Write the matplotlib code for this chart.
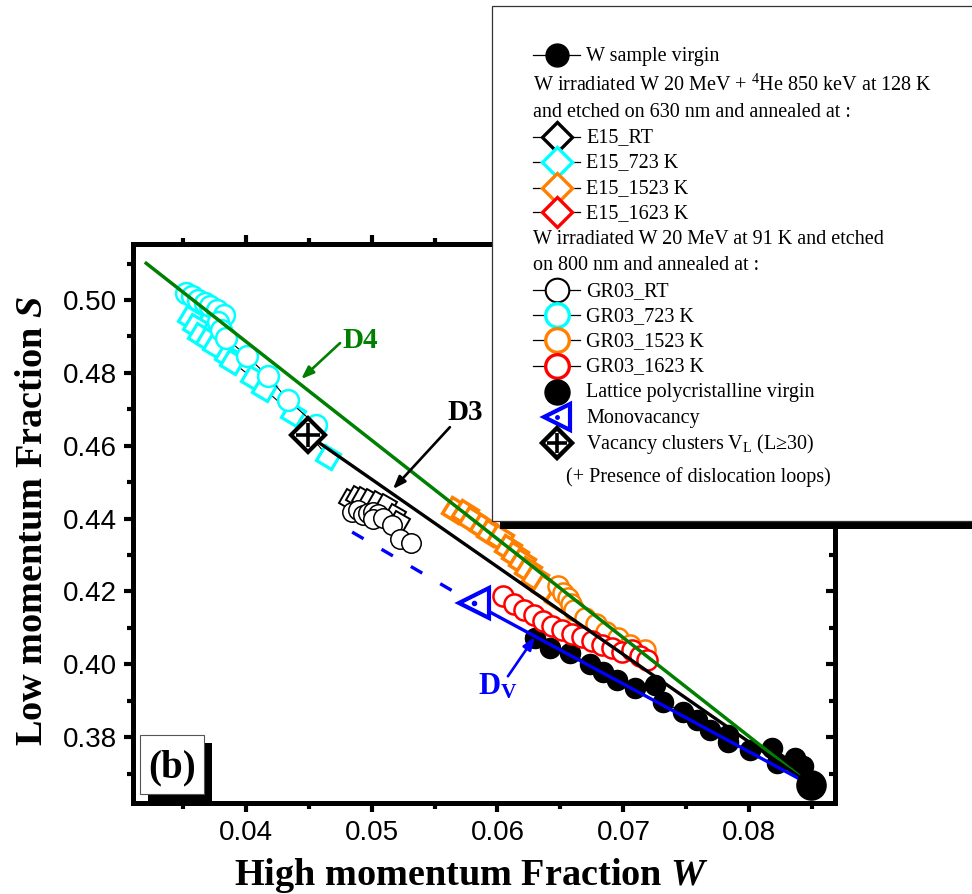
import matplotlib
matplotlib.use('Agg')
import matplotlib.pyplot as plt
from matplotlib.markers import MarkerStyle
from matplotlib.transforms import Affine2D
from matplotlib.patches import Rectangle
from matplotlib.ticker import MultipleLocator, FormatStrFormatter

plt.rcParams['font.family'] = ['Liberation Serif', 'DejaVu Serif']
plt.rcParams['mathtext.fontset'] = 'custom'
plt.rcParams['mathtext.rm'] = 'Liberation Serif'
plt.rcParams['mathtext.it'] = 'Liberation Serif:italic'
plt.rcParams['mathtext.bf'] = 'Liberation Serif:bold'
try:
    plt.rcParams['mathtext.bfit'] = 'Liberation Serif:bold:italic'
    BFIT = True
except KeyError:
    BFIT = False
plt.rcParams['lines.scale_dashes'] = False

# ---------------- data ----------------
virgin_W = [0.06297, 0.06416, 0.06575, 0.06733, 0.06837, 0.06948, 0.07091, 0.07249,
            0.07313, 0.07471, 0.07582, 0.07686, 0.07829, 0.07829, 0.08003, 0.08178,
            0.08218, 0.08361, 0.08424]
virgin_S = [0.4072, 0.4044, 0.4031, 0.4000, 0.3978, 0.3957, 0.3935, 0.3943,
            0.3896, 0.3869, 0.3847, 0.3819, 0.3805, 0.3786, 0.3764, 0.3770,
            0.3729, 0.3742, 0.3720]

e15_rt_W = [0.04829, 0.04884, 0.04932, 0.04987, 0.05050, 0.05114, 0.05186, 0.05217]
e15_rt_S = [0.4451, 0.4459, 0.4456, 0.4451, 0.4445, 0.4437, 0.4410, 0.4390]

e15_723_W = [0.03559, 0.03598, 0.03638, 0.03702, 0.03757, 0.03852, 0.03892, 0.04059,
             0.04146, 0.04376, 0.04654]
e15_723_S = [0.4950, 0.4928, 0.4904, 0.4890, 0.4874, 0.4846, 0.4830, 0.4786,
             0.4756, 0.4687, 0.4569]

e15_1523_W = [0.05662, 0.05741, 0.05797, 0.05884, 0.05940, 0.06019, 0.06083, 0.06138,
              0.06194, 0.06241, 0.06297, 0.06376, 0.06480]
e15_1523_S = [0.4423, 0.4415, 0.4396, 0.4377, 0.4360, 0.4346, 0.4319, 0.4300,
              0.4281, 0.4259, 0.4237, 0.4209, 0.4182]

gr03_rt_W = [0.04844, 0.04892, 0.04932, 0.04971, 0.05011, 0.05050, 0.05011, 0.05090,
             0.05162, 0.05225, 0.05313]
gr03_rt_S = [0.4418, 0.4423, 0.4410, 0.4415, 0.4418, 0.4412, 0.4399, 0.4401,
             0.4382, 0.4344, 0.4333]

gr03_723_W = [0.03527, 0.03575, 0.03622, 0.03678, 0.03717, 0.03773, 0.03829, 0.03781,
              0.03805, 0.03844, 0.04011, 0.04178, 0.04337, 0.04559]
gr03_723_S = [0.5019, 0.5011, 0.5000, 0.4992, 0.4983, 0.4972, 0.4958, 0.4939,
              0.4917, 0.4896, 0.4846, 0.4791, 0.4725, 0.4657]

gr03_1523_W = [0.06479, 0.06519, 0.06559, 0.06583, 0.06606, 0.06693, 0.06781, 0.06860,
               0.06956, 0.07051, 0.07170]
gr03_1523_S = [0.4215, 0.4195, 0.4182, 0.4165, 0.4149, 0.4127, 0.4110, 0.4088,
               0.4072, 0.4053, 0.4039]

gr03_1623_W = [0.06043, 0.06130, 0.06210, 0.06289, 0.06360, 0.06432, 0.06511, 0.06590,
               0.06670, 0.06749, 0.06829, 0.06908, 0.06987, 0.07067, 0.07130, 0.07186]
gr03_1623_S = [0.4187, 0.4165, 0.4149, 0.4135, 0.4118, 0.4105, 0.4094, 0.4083,
               0.4075, 0.4064, 0.4053, 0.4045, 0.4034, 0.4039, 0.4022, 0.4011]

lattice_W = [0.0849]
lattice_S = [0.3668]
mono_W = [0.05813]
mono_S = [0.4167]
cluster_W = [0.04498]
cluster_S = [0.4629]

d4_W = [0.0320, 0.0849]
d4_S = [0.5104, 0.3668]
d3_W = [0.04498, 0.0849]
d3_S = [0.4629, 0.3668]
dv_W = [0.05813, 0.0849]
dv_S = [0.4167, 0.3668]
dv_ext_W = [0.04846, 0.05813]
dv_ext_S = [0.4363, 0.4167]

CYAN = '#00ffff'
ORANGE = '#ff8000'
RED = '#ff0000'
BLUE = '#0000ff'
GREEN = '#008000'

W_PX, H_PX = 972, 894
fig = plt.figure(figsize=(W_PX / 100, H_PX / 100), dpi=100)
L, R, T, B = 133, 835, 244, 803
ax = fig.add_axes([L / W_PX, 1 - B / H_PX, (R - L) / W_PX, (B - T) / H_PX])
ax.set_xlim(0.03106, 0.0868)
ax.set_ylim(0.3619, 0.5154)

sq = MarkerStyle('s', transform=Affine2D().rotate_deg(-32))
conn = dict(color='black', lw=0.8)

ax.plot(virgin_W, virgin_S, marker='o', ms=14.5, mfc='black', mec='black', **conn, zorder=2)
ax.plot(e15_rt_W, e15_rt_S, marker=sq, ms=12, mfc='white', mec='black', mew=1.4, **conn, zorder=2)
ax.plot(gr03_rt_W, gr03_rt_S, marker='o', ms=14, mfc='white', mec='black', mew=1.1, **conn, zorder=2)
ax.plot(e15_723_W, e15_723_S, marker=sq, ms=13, mfc='white', mec=CYAN, mew=2.3, **conn, zorder=2)
ax.plot(gr03_723_W, gr03_723_S, marker='o', ms=15, mfc='white', mec=CYAN, mew=1.8, **conn, zorder=2)
ax.plot(e15_1523_W, e15_1523_S, marker=sq, ms=13.5, mfc='white', mec=ORANGE, mew=2.5, **conn, zorder=2)
ax.plot(gr03_1523_W, gr03_1523_S, marker='o', ms=14.5, mfc='white', mec=ORANGE, mew=1.8, **conn, zorder=2)
ax.plot(gr03_1623_W, gr03_1623_S, marker='o', ms=14.5, mfc='white', mec=RED, mew=1.8, **conn, zorder=2)

ax.plot(d4_W, d4_S, color=GREEN, lw=2.5, zorder=3, solid_capstyle='butt')
ax.plot(d3_W, d3_S, color='black', lw=2.4, zorder=3, solid_capstyle='butt')
ax.plot(dv_W, dv_S, color=BLUE, lw=2.4, zorder=3, solid_capstyle='butt')
ax.plot(dv_ext_W, dv_ext_S, color=BLUE, lw=2.4, zorder=3, dashes=(9.5, 15))

ax.plot(lattice_W, lattice_S, 'o', ms=21, color='black', zorder=4)
ax.plot(mono_W, mono_S, '<', ms=22, mfc='white', mec=BLUE, mew=3.0, zorder=4)
ax.plot(mono_W, mono_S, 'o', ms=3, color=BLUE, zorder=5)
ax.plot(cluster_W, cluster_S, 'D', ms=17, mfc='white', mec='black', mew=3.0, zorder=4)
ax.plot(cluster_W, cluster_S, '+', ms=17, mec='black', mew=2.6, zorder=5)

# annotations: label text + arrow
arrow_style = '-|>,head_length=0.75,head_width=0.28'
def label_arrow(text, txy, start, tip, color, fs=21, **kw):
    ax.text(txy[0], txy[1], text, color=color, fontsize=fs, ha='center', va='center', zorder=6, **kw)
    ax.annotate('', xy=tip, xytext=start,
                arrowprops=dict(arrowstyle=arrow_style, color=color, lw=1.9,
                                shrinkA=0, shrinkB=0), zorder=6)

label_arrow('D4', (0.04908, 0.4890), (0.04750, 0.4882), (0.04441, 0.4783), GREEN, fontweight='bold')
label_arrow('D3', (0.05741, 0.4692), (0.05622, 0.4651), (0.05170, 0.4481), 'black', fontweight='bold')
label_arrow(r'$\mathbf{D}_{\mathbf{V}}$', (0.06000, 0.3938), (0.06083, 0.3967), (0.06297, 0.4075), BLUE, fs=22)

# axes styling
for s in ax.spines.values():
    s.set_linewidth(3.6)
ax.xaxis.set_major_locator(MultipleLocator(0.01))
ax.xaxis.set_minor_locator(MultipleLocator(0.005))
ax.yaxis.set_major_locator(MultipleLocator(0.02))
ax.yaxis.set_minor_locator(MultipleLocator(0.01))
ax.xaxis.set_major_formatter(FormatStrFormatter('%.2f'))
ax.yaxis.set_major_formatter(FormatStrFormatter('%.2f'))
ax.tick_params(axis='x', which='both', direction='out', top=True, bottom=True)
ax.tick_params(axis='y', which='both', direction='out', left=True, right=False)
ax.tick_params(which='major', length=6.5, width=3)
ax.tick_params(which='minor', length=4, width=3)
ax.tick_params(axis='x', labelsize=20, pad=6)
ax.tick_params(axis='y', labelsize=20, pad=5)
for lab in ax.get_xticklabels() + ax.get_yticklabels():
    lab.set_family(['Liberation Sans', 'DejaVu Sans'])

sec = ax.secondary_yaxis('right')
sec.yaxis.set_major_locator(MultipleLocator(0.02))
sec.yaxis.set_minor_locator(MultipleLocator(0.01))
sec.tick_params(which='both', direction='in', labelright=False, width=3)
sec.tick_params(which='major', length=6.5)
sec.tick_params(which='minor', length=4)
sec.spines['right'].set_linewidth(3.6)

xl = 'High momentum Fraction ' + (r'$\mathbfit{W}$' if BFIT else r'$\mathit{W}$')
yl = 'Low momentum Fraction ' + (r'$\mathbfit{S}$' if BFIT else r'$\mathit{S}$')
fig.text(471 / W_PX, 1 - 885 / H_PX, xl, fontsize=27.5, fontweight='bold', ha='center', va='baseline')
fig.text(33 / W_PX, 1 - 521 / H_PX, yl, fontsize=27.5, fontweight='bold', ha='center', va='center',
         rotation=90)

# ---------------- overlay (legend and panel label), pixel coordinates ----------------
ov = fig.add_axes([0, 0, 1, 1], zorder=10)
ov.set_xlim(0, W_PX)
ov.set_ylim(H_PX, 0)
ov.axis('off')
ov.patch.set_visible(False)

# panel label (b)
ov.add_patch(Rectangle((148, 743), 64, 59, facecolor='black', edgecolor='none'))
ov.add_patch(Rectangle((140, 735), 64, 59, facecolor='white', edgecolor='#555555', lw=0.8))
ov.text(172, 777, '(b)', fontsize=28, fontweight='bold', ha='center', va='baseline')

# legend box
ov.add_patch(Rectangle((500, 14), 520, 515, facecolor='black', edgecolor='none'))
ov.add_patch(Rectangle((492, 6), 520, 515, facecolor='white', edgecolor='#333333', lw=0.9))

LX0, LX1, MX, TX = 533, 580, 557, 586
FS = 14.5
def row_marker(y, **kw):
    ov.plot([LX0, LX1], [y, y], color='black', lw=0.9)
    ov.plot([MX], [y], **kw)

def txt(x, y, s):
    ov.text(x, y + 6, s, fontsize=FS, ha='left', va='baseline')

legend_rows = [
    ('W sample virgin', 'line', dict(marker='o', ms=16.5, color='black')),
    ('W irradiated W 20 MeV + $^{4}$He 850 keV at 128 K', None, None),
    ('and etched on 630 nm and annealed at :', None, None),
    ('E15_RT', 'line', dict(marker='D', ms=15, mfc='white', mec='black', mew=2.4)),
    ('E15_723 K', 'line', dict(marker='D', ms=15, mfc='white', mec=CYAN, mew=2.4)),
    ('E15_1523 K', 'line', dict(marker='D', ms=15, mfc='white', mec=ORANGE, mew=2.4)),
    ('E15_1623 K', 'line', dict(marker='D', ms=15, mfc='white', mec=RED, mew=2.4)),
    ('W irradiated W 20 MeV at 91 K and etched', None, None),
    ('on 800 nm and annealed at :', None, None),
    ('GR03_RT', 'line', dict(marker='o', ms=17, mfc='white', mec='black', mew=1.5)),
    ('GR03_723 K', 'line', dict(marker='o', ms=17, mfc='white', mec=CYAN, mew=2.4)),
    ('GR03_1523 K', 'line', dict(marker='o', ms=17, mfc='white', mec=ORANGE, mew=2.4)),
    ('GR03_1623 K', 'line', dict(marker='o', ms=17, mfc='white', mec=RED, mew=2.4)),
    ('Lattice polycristalline virgin', 'marker', dict(marker='o', ms=18, color='black')),
    ('Monovacancy', 'marker', dict(marker='<', ms=19, mfc='white', mec=BLUE, mew=3.0)),
    ('Vacancy clusters V$_{\\mathrm{L}}$ (L\u226530)', 'marker',
     dict(marker='D', ms=15, mfc='white', mec='black', mew=3.2)),
]
row_y = [55, 85, 111, 136.5, 161.5, 187.5, 212, 238.5, 264, 290, 315, 340, 365.5, 391.5, 416.5, 442.5]
for (label, kind, kw), y in zip(legend_rows, row_y):
    if kind is None:
        txt(533, y, label)
    elif kind == 'line':
        row_marker(y, **kw)
        txt(TX, y, label)
    else:
        ov.plot([MX], [y], **kw)
        txt(TX, y, label)
ov.plot([MX], [416.5], 'o', ms=2.5, color=BLUE)
ov.plot([MX], [442.5], '+', ms=14, mec='black', mew=2.6)
txt(566, 476, '(+ Presence of dislocation loops)')

fig.savefig('out.png', dpi=100)
